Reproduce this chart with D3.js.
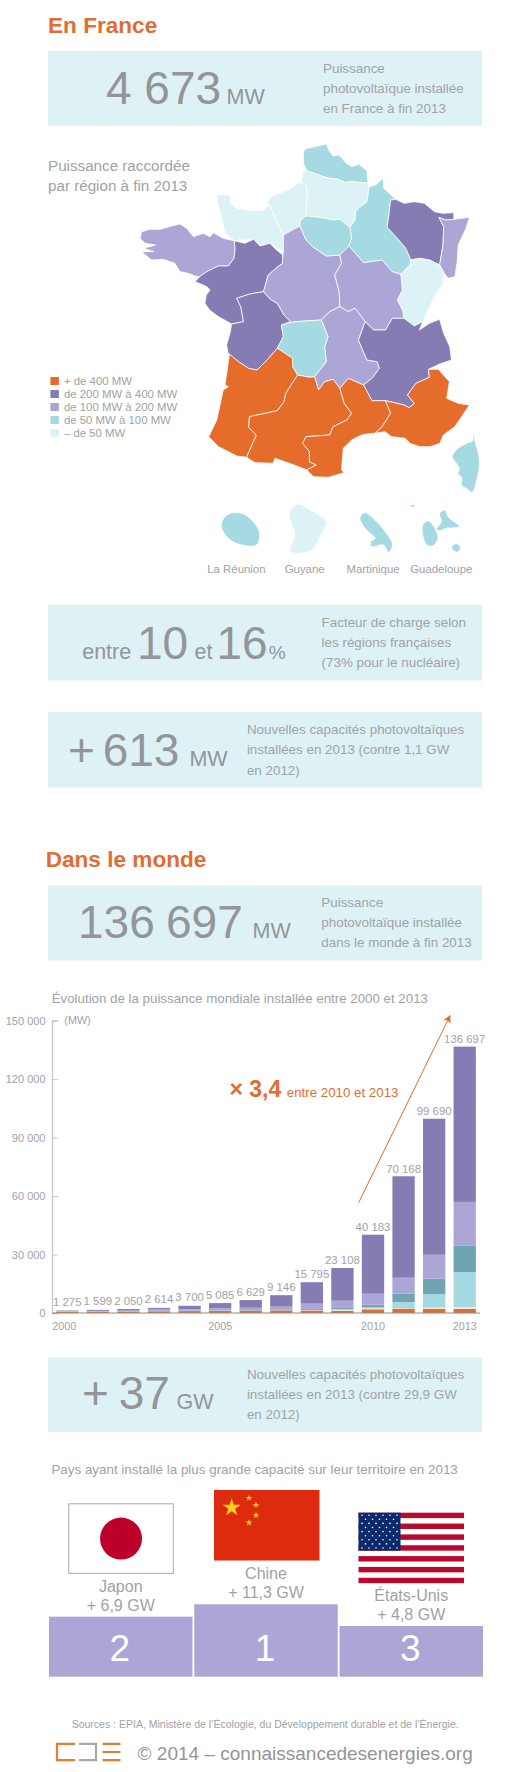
<!DOCTYPE html>
<html lang="fr">
<head>
<meta charset="utf-8">
<title>Photovoltaïque</title>
<script src="https://cdn.jsdelivr.net/npm/d3@7"></script>
<style>
html,body{margin:0;padding:0;background:#fff}
svg{display:block}
text{font-family:"Liberation Sans",Arial,sans-serif}
</style>
</head>
<body>
<svg id="page" width="530" height="1772" viewBox="0 0 530 1772"></svg>
<script>
// ---------- World chart data ----------
const years = [2000,2001,2002,2003,2004,2005,2006,2007,2008,2009,2010,2011,2012,2013];
const totals = [1275,1599,2050,2614,3700,5085,6629,9146,15795,23108,40183,70168,99690,136697];
const seriesOrange = [700,800,800,900,1000,1100,1200,1300,1300,1200,1900,2200,2200,2100];
const seriesPale = [100,100,100,100,100,100,100,100,200,500,400,200,600,900];
const seriesLightTeal = [0,0,0,0,0,0,0,0,100,200,600,3240,6800,18000];
const seriesDarkTeal = [0,0,100,100,100,100,200,200,500,1000,1400,4260,8000,13700];
const seriesLightPurple = [200,200,500,700,800,1100,1200,1700,2700,3400,5600,8200,12300,22300];
const seriesPurple = [275,499,550,814,1700,2685,3929,5846,10995,16808,30283,52068,69790,79697];
const yTicks = [0,30000,60000,90000,120000,150000];
const xTickYears = [2000,2005,2010,2013];

// ---------- Map legend ----------
const legendLabels = ["+ de 400 MW","de 200 MW à 400 MW","de 100 MW à 200 MW","de 50 MW à 100 MW","– de 50 MW"];
const overseasLabels = ["La Réunion","Guyane","Martinique","Guadeloupe"];

// ---------- Region classes (index into legend) and traced outlines (map units) ----------
const regionClasses = {nord:3,picardie:4,hauteNormandie:4,basseNormandie:4,bretagne:2,paysLoire:1,poitou:1,centre:2,idf:3,champagne:3,lorraine:1,alsace:2,francheComte:4,bourgogne:2,auvergne:2,limousin:3,rhoneAlpes:1,aquitaine:0,midiPyrenees:0,languedoc:0,paca:0,corse:3,reunion:3,guyane:4,martinique:3,guadeloupeO:3,guadeloupeE:3,guadeloupeS:3,guadeloupeN:3};
const islandKeys = ["corse","reunion","guyane","martinique","guadeloupeO","guadeloupeE","guadeloupeS"];
const regionOutlines = {
 nord:[[897,35],[904,26],[930,20],[965,12],[972,30],[985,48],[1002,45],[1012,55],[1022,68],[1040,80],[1062,73],[1085,92],[1088,130],[1060,127],[1040,124],[1022,128],[1000,118],[975,115],[955,110],[930,100],[908,93],[897,70]],
 picardie:[[897,92],[908,93],[930,100],[955,110],[975,115],[1000,118],[1022,128],[1040,124],[1060,127],[1088,130],[1092,140],[1085,185],[1060,205],[1052,215],[1050,240],[1035,262],[1005,238],[985,240],[945,232],[905,228],[905,190],[908,165],[905,135],[890,125]],
 hauteNormandie:[[890,125],[905,135],[908,165],[905,190],[905,228],[887,258],[860,275],[838,285],[815,240],[798,195],[790,188],[800,170],[850,150]],
 basseNormandie:[[640,165],[680,165],[682,190],[700,205],[745,212],[775,212],[798,195],[815,240],[838,285],[838,335],[820,325],[798,310],[769,318],[750,298],[693,302],[665,280],[657,240],[645,195]],
 bretagne:[[414,295],[419,275],[443,268],[473,268],[508,258],[532,252],[552,265],[572,290],[601,280],[621,290],[631,278],[660,295],[693,302],[695,330],[692,355],[675,378],[646,378],[611,395],[590,410],[577,408],[557,400],[532,395],[517,370],[483,358],[448,360],[419,335],[455,335],[425,325],[460,315],[429,310]],
 paysLoire:[[693,302],[724,310],[750,298],[769,318],[798,310],[818,330],[836,345],[835,372],[828,375],[793,405],[785,435],[779,455],[739,462],[700,475],[712,500],[720,545],[685,552],[646,530],[620,510],[606,490],[610,465],[621,450],[612,440],[577,425],[590,410],[611,395],[646,378],[675,378],[692,355],[695,330]],
 poitou:[[700,475],[739,462],[779,455],[800,478],[820,490],[840,525],[860,545],[832,555],[838,590],[820,625],[790,660],[760,690],[735,685],[705,665],[675,640],[670,615],[680,580],[685,552],[720,545],[712,500]],
 centre:[[887,258],[905,300],[925,320],[965,348],[1005,345],[1010,370],[990,405],[1003,455],[1005,500],[975,515],[950,540],[900,543],[860,547],[840,525],[820,490],[800,478],[779,455],[785,435],[793,405],[828,375],[835,372],[836,345],[838,335],[838,285]],
 idf:[[888,242],[905,228],[945,232],[985,240],[1005,238],[1035,262],[1040,295],[1032,318],[1005,345],[965,348],[925,320],[905,300],[887,258]],
 champagne:[[1092,140],[1110,135],[1133,115],[1135,145],[1170,178],[1155,180],[1150,225],[1145,262],[1175,295],[1200,325],[1215,360],[1212,375],[1185,403],[1160,395],[1130,360],[1075,368],[1032,318],[1040,295],[1035,262],[1050,240],[1052,215],[1060,205],[1085,185]],
 lorraine:[[1155,180],[1170,178],[1195,190],[1225,185],[1255,190],[1285,215],[1310,220],[1342,218],[1342,238],[1318,240],[1298,232],[1312,260],[1310,315],[1300,375],[1270,360],[1240,355],[1215,360],[1200,325],[1175,295],[1145,262],[1150,225]],
 alsace:[[1298,232],[1318,240],[1342,238],[1388,232],[1378,265],[1355,315],[1352,365],[1345,410],[1325,415],[1310,395],[1300,375],[1310,315],[1312,260]],
 francheComte:[[1212,375],[1215,360],[1240,355],[1270,360],[1300,375],[1312,395],[1310,430],[1285,470],[1250,545],[1225,558],[1195,535],[1190,510],[1175,480],[1190,450],[1185,403]],
 bourgogne:[[1005,345],[1032,318],[1075,368],[1130,360],[1160,395],[1185,403],[1190,450],[1175,480],[1190,510],[1195,535],[1160,535],[1140,570],[1105,570],[1080,545],[1050,505],[1030,515],[1005,500],[1003,455],[990,405],[1010,370]],
 auvergne:[[975,515],[1005,500],[1030,515],[1050,505],[1080,545],[1060,600],[1085,660],[1115,665],[1122,685],[1100,715],[1075,735],[1030,715],[1005,745],[985,718],[960,725],[942,750],[930,710],[965,665],[960,620],[970,590],[950,540]],
 limousin:[[860,547],[900,543],[950,540],[970,590],[960,620],[965,665],[930,710],[915,712],[880,705],[865,680],[865,655],[820,625],[838,590],[832,555]],
 rhoneAlpes:[[1080,545],[1105,570],[1140,570],[1160,535],[1195,535],[1225,558],[1250,545],[1240,570],[1270,550],[1300,538],[1312,580],[1330,620],[1335,660],[1300,672],[1267,688],[1270,712],[1230,730],[1205,765],[1225,790],[1210,803],[1195,795],[1140,782],[1100,782],[1075,735],[1100,715],[1122,685],[1115,665],[1085,660],[1060,600]],
 aquitaine:[[678,642],[705,665],[735,685],[760,690],[790,660],[820,625],[865,655],[865,680],[880,705],[845,760],[840,785],[820,812],[760,825],[738,830],[735,862],[758,885],[745,915],[729,952],[700,948],[646,920],[617,890],[641,840],[660,750],[675,740],[665,735],[672,690]],
 midiPyrenees:[[738,830],[760,825],[820,812],[840,785],[845,760],[880,705],[915,712],[930,710],[942,750],[960,725],[985,718],[1005,745],[1018,790],[1040,820],[1025,840],[985,860],[975,885],[905,890],[895,910],[915,935],[915,965],[935,975],[907,990],[870,975],[813,955],[808,970],[754,968],[729,952],[745,915],[758,885],[735,862]],
 languedoc:[[1005,745],[1030,715],[1075,735],[1100,782],[1140,782],[1155,820],[1130,860],[1109,880],[1099,880],[1069,885],[1040,900],[1015,925],[1010,990],[1018,998],[971,1012],[927,1010],[907,990],[935,975],[915,965],[915,935],[895,910],[905,890],[975,885],[985,860],[1025,840],[1040,820],[1018,790]],
 paca:[[1140,782],[1195,795],[1210,803],[1225,790],[1205,765],[1230,730],[1270,712],[1267,688],[1296,688],[1329,725],[1321,775],[1355,790],[1388,795],[1365,830],[1345,860],[1311,885],[1301,910],[1272,920],[1242,920],[1212,910],[1198,895],[1158,890],[1138,875],[1109,880],[1130,860],[1155,820]],
 corse:[[1399,873],[1405,905],[1412,930],[1418,965],[1411,1015],[1396,1058],[1386,1050],[1364,1035],[1366,1015],[1354,1000],[1358,985],[1337,950],[1345,935],[1354,925],[1384,908],[1397,903]],
 reunion:[[654,1155],[675,1122],[715,1120],[739,1135],[767,1175],[759,1215],[715,1215],[675,1195]],
 guyane:[[882,1092],[917,1110],[966,1145],[951,1180],[922,1230],[858,1235],[872,1180],[856,1135],[858,1110]],
 martinique:[[1065,1130],[1079,1118],[1109,1140],[1139,1175],[1161,1215],[1148,1237],[1134,1215],[1099,1220],[1096,1205],[1109,1195],[1084,1170],[1067,1145]],
 guadeloupeO:[[1250,1155],[1265,1142],[1280,1155],[1295,1195],[1280,1218],[1262,1215],[1250,1185]],
 guadeloupeE:[[1290,1168],[1305,1145],[1300,1120],[1315,1110],[1325,1130],[1358,1160],[1320,1165],[1300,1172]],
 guadeloupeS:[[1335,1222],[1350,1210],[1362,1225],[1350,1237]],
 guadeloupeN:[[1205,1100],[1225,1092],[1228,1102]]
};

// ---------- Podium ----------
const podiumCountries = ["Japon","Chine","États-Unis"];
const podiumGains = ["+ 6,9 GW","+ 11,3 GW","+ 4,8 GW"];
const podiumRanks = [2,1,3];

// ---------- Styles ----------
const ORANGE="#e26c33", GREY="#939598", TXT="#a0a2a5", BOX="#def2f6";
const legendColors=["#e66c2c","#857cb4","#aca6d6","#a6dae2","#ddf2f4"];
const svg=d3.select("#page");
const label=(x,y,t,size,fill,opts={})=>{
  const n=svg.append("text").attr("x",x).attr("y",y).attr("font-size",size).attr("fill",fill).text(t);
  if(opts.bold) n.attr("font-weight","bold");
  if(opts.anchor) n.attr("text-anchor",opts.anchor);
  if(opts.wordSpacing) n.attr("word-spacing",opts.wordSpacing);
  return n;
};
const para=(x,ys,lines)=>lines.forEach((l,i)=>label(x,ys[i],l,13.4,TXT));
const box=(y0,y1)=>svg.append("rect").attr("x",48).attr("y",y0).attr("width",434).attr("height",y1-y0).attr("fill",BOX);

// ---------- Section: France ----------
label(48,32.7,"En France",22.6,ORANGE,{bold:true});
box(51,126);
label(106,104,"4 673",46,GREY);
label(226.5,104,"MW",21.5,GREY);
para(323,[73.3,93.3,113.3],["Puissance","photovoltaïque installée","en France à fin 2013"]);

label(48,170.7,"Puissance raccordée",15.2,TXT);
label(48,190.7,"par région à fin 2013",15.2,TXT);

// Map
const mapX=d3.scaleLinear().domain([0,1590]).range([0,537.7]);
const mapY=d3.scaleLinear().domain([0,1380]).range([140,600]);
const outline=d3.line().x(d=>mapX(d[0])).y(d=>mapY(d[1])).curve(d3.curveLinearClosed);
const islandOutline=d3.line().x(d=>mapX(d[0])).y(d=>mapY(d[1])).curve(d3.curveCatmullRomClosed.alpha(0.5));
svg.append("g").selectAll("path").data(Object.keys(regionOutlines)).join("path")
  .attr("d",k=>(islandKeys.includes(k)?islandOutline:outline)(regionOutlines[k]))
  .attr("fill",k=>legendColors[regionClasses[k]])
  .attr("stroke","#fff").attr("stroke-width",0.8).attr("stroke-linejoin","round");

// Map legend
const legendY=d3.scalePoint().domain(legendLabels).range([381,433]);
const lg=svg.append("g").selectAll("g").data(legendLabels).join("g").attr("transform",d=>`translate(0,${legendY(d)})`);
lg.append("rect").attr("x",50.4).attr("y",-4).attr("width",8.5).attr("height",8).attr("fill",(d,i)=>legendColors[i]);
lg.append("text").attr("x",63.9).attr("y",4).attr("font-size",11.4).attr("fill",TXT).text(d=>d);

// Overseas labels
const overseasX=d3.scalePoint().domain(overseasLabels).range([236.4,441.3]);
svg.append("g").selectAll("text").data(overseasLabels).join("text")
  .attr("x",d=>overseasX(d)).attr("y",572.7).attr("text-anchor","middle").attr("font-size",11.4).attr("fill",TXT).text(d=>d);

// Box: load factor
box(605,680.7);
label(82.2,659,"entre",21.5,GREY);
label(137,659,"10",46,GREY);
label(194.5,659,"et",21.5,GREY);
label(216.5,659,"16",46,GREY);
label(268.8,659,"%",19,GREY);
para(321.6,[626.7,646.7,666.7],["Facteur de charge selon","les régions françaises","(73% pour le nucléaire)"]);

// Box: new capacity France
box(712,787.7);
label(68,765.7,"+ 613",46,GREY,{wordSpacing:-5});
label(189.4,765.7,"MW",21.5,GREY);
para(246.9,[734,754,775],["Nouvelles capacités photovoltaïques","installées en 2013 (contre 1,1 GW","en 2012)"]);

// ---------- Section: World ----------
label(45.7,867.3,"Dans le monde",22.6,ORANGE,{bold:true});
box(885.3,960.7);
label(78,937.7,"136 697",46,GREY,{wordSpacing:-1.5});
label(252.6,937.7,"MW",21.5,GREY);
para(321.3,[907,927,947],["Puissance","photovoltaïque installée","dans le monde à fin 2013"]);

// Stacked bars
label(51.7,1002.7,"Évolution de la puissance mondiale installée entre 2000 et 2013",13.3,TXT);
const fr=d3.formatLocale({decimal:",",thousands:"\u00a0",grouping:[3],currency:["","€"]}).format(",d");
const x=d3.scaleBand().domain(years).range([52,480]).paddingInner(0.27).paddingOuter(0.135);
const y=d3.scaleLinear().domain([0,150000]).range([1313,1020.7]);
const keys=["orange","pale","lightTeal","darkTeal","lightPurple","purple"];
const colours=d3.scaleOrdinal().domain(keys).range(["#e66c2c","#e8eeea","#a6dae2","#6fa4b3","#aca6d6","#857cb4"]);
const rows=years.map((yr,i)=>({year:yr,orange:seriesOrange[i],pale:seriesPale[i],lightTeal:seriesLightTeal[i],darkTeal:seriesDarkTeal[i],lightPurple:seriesLightPurple[i],purple:seriesPurple[i]}));
const stacks=d3.stack().keys(keys)(rows);
svg.append("g").selectAll("g").data(stacks).join("g").attr("fill",s=>colours(s.key))
  .selectAll("rect").data(s=>s).join("rect")
  .attr("x",d=>x(d.data.year)).attr("width",x.bandwidth())
  .attr("y",d=>y(d[1])).attr("height",d=>Math.max(0,y(d[0])-y(d[1])));
svg.append("g").selectAll("text").data(years).join("text")
  .attr("x",d=>x(d)+x.bandwidth()/2).attr("y",(d,i)=>y(totals[i])-(i<9?4.5:3.5))
  .attr("text-anchor","middle").attr("font-size",11.4).attr("fill",TXT)
  .text((d,i)=>fr(totals[i]));

const axisY=svg.append("g").attr("transform","translate(52,0)")
  .call(d3.axisLeft(y).tickValues(yTicks).tickFormat(fr).tickSize(-5.7).tickPadding(6.5));
axisY.select(".domain").attr("stroke","#c6c6c6").attr("stroke-width",1.3);
axisY.selectAll(".tick line").attr("stroke","#b5b5b5").attr("stroke-width",0.8);
axisY.selectAll("text").attr("fill",TXT).attr("font-size",11).attr("font-family",'"Liberation Sans",Arial,sans-serif');
label(64.3,1023.6,"(MW)",10.8,TXT);

svg.append("line").attr("x1",x.range()[0]).attr("x2",x.range()[1]).attr("y1",y(0)).attr("y2",y(0)).attr("stroke","#8c8c8c").attr("stroke-width",1);
const axisX=svg.append("g").attr("transform",`translate(0,${y(0)})`)
  .call(d3.axisBottom(x).tickValues(xTickYears).tickSize(0).tickPadding(9));
axisX.select(".domain").remove();
axisX.selectAll("text").attr("fill",TXT).attr("font-size",10.8).attr("font-family",'"Liberation Sans",Arial,sans-serif');
axisX.selectAll(".tick").filter(d=>d===2000).select("text").attr("dx",-3);

// Growth arrow (fractional year, MW)
const yearX=d3.scaleLinear().domain([2000,2013]).range([x(2000)+x.bandwidth()/2,x(2013)+x.bandwidth()/2]);
const arrowFrom=[2009.53,56600], arrowTo=[2012.52,152600];
const defs=svg.append("defs");
defs.append("marker").attr("id","arrowHead").attr("viewBox","0 0 10 10").attr("refX",9).attr("refY",5)
  .attr("markerWidth",8).attr("markerHeight",8).attr("markerUnits","userSpaceOnUse").attr("orient","auto")
  .append("path").attr("d","M0,0L10,5L0,10L2.5,5Z").attr("fill",ORANGE);
svg.append("line").attr("x1",yearX(arrowFrom[0])).attr("y1",y(arrowFrom[1])).attr("x2",yearX(arrowTo[0])).attr("y2",y(arrowTo[1]))
  .attr("stroke",ORANGE).attr("stroke-width",1).attr("marker-end","url(#arrowHead)");
label(229.5,1096.7,"× 3,4",23,ORANGE,{bold:true});
label(286.8,1096.7,"entre 2010 et 2013",13.3,ORANGE);

// Box: new capacity world
box(1357.3,1432);
label(82,1409.3,"+ 37",46,GREY,{wordSpacing:-3});
label(176.5,1409.3,"GW",21.5,GREY);
para(246.9,[1379,1399,1419],["Nouvelles capacités photovoltaïques","installées en 2013 (contre 29,9 GW","en 2012)"]);

// Podium
label(51.4,1474,"Pays ayant installé la plus grande capacité sur leur territoire en 2013",13.4,TXT);

const podiumX=d3.scaleBand().domain([0,1,2]).range([49,483]).paddingInner(0.012);
const podiumTop=d3.scaleLinear().domain([1,2,3]).range([1604.3,1616.7,1626]);
const flagW=105.5,flagH=70.5;
const g=svg.append("g").selectAll("g").data(podiumRanks).join("g");
g.append("rect").attr("x",(d,i)=>podiumX(i)).attr("width",podiumX.bandwidth()).attr("y",d=>podiumTop(d)).attr("height",d=>1676.7-podiumTop(d)).attr("fill","#aca6d6");
g.append("text").attr("x",(d,i)=>podiumX(i)+podiumX.bandwidth()/2-(i===1?1:1)).attr("y",1660.7).attr("text-anchor","middle").attr("font-size",37).attr("fill","#fff").text(d=>d);
g.append("text").attr("x",(d,i)=>podiumX(i)+podiumX.bandwidth()/2).attr("y",d=>podiumTop(d)-25).attr("text-anchor","middle").attr("font-size",16).attr("fill",TXT).text((d,i)=>podiumCountries[i]);
g.append("text").attr("x",(d,i)=>podiumX(i)+podiumX.bandwidth()/2).attr("y",d=>podiumTop(d)-6).attr("text-anchor","middle").attr("font-size",16).attr("fill",TXT).text((d,i)=>podiumGains[i]);

// Japan flag
const jp=svg.append("g").attr("transform","translate(68.3,1503.3)");
jp.append("rect").attr("x",0.5).attr("y",0.5).attr("width",flagW-1).attr("height",flagH-1).attr("fill","#fff").attr("stroke","#a8a8a8");
jp.append("circle").attr("cx",flagW/2).attr("cy",flagH/2).attr("r",21).attr("fill","#bd0029");

// China flag
const cn=svg.append("g").attr("transform","translate(214,1490)");
cn.append("rect").attr("width",flagW).attr("height",flagH).attr("fill","#de2a0e");
const star=s=>d3.symbol(d3.symbolStar,s)();
[[17.7,17.7,100],[35,8,14],[42,15,14],[42,25.4,14],[35,32.7,14]].forEach(p=>
  cn.append("path").attr("d",star(p[2])).attr("transform",`translate(${p[0]},${p[1]})`).attr("fill","#fcd116"));

// US flag
const us=svg.append("g").attr("transform","translate(358.5,1512.7)");
us.append("rect").attr("width",flagW).attr("height",flagH).attr("fill","#fff");
const stripe=d3.scaleBand().domain(d3.range(13)).range([0,flagH]);
us.selectAll(".s").data(d3.range(0,13,2)).join("rect").attr("class","s").attr("y",d=>stripe(d)).attr("width",flagW).attr("height",stripe.bandwidth()).attr("fill","#b80a2e");
us.append("rect").attr("width",42).attr("height",38).attr("fill","#0a2a6b");
const usStars=[];
for(let r=0;r<9;r++){const n=r%2?5:6;for(let c=0;c<n;c++)usStars.push([(r%2?7:3.5)+c*7,2.5+r*4.1]);}
us.selectAll("circle").data(usStars).join("circle").attr("cx",d=>d[0]).attr("cy",d=>d[1]).attr("r",0.8).attr("fill","#fff");

// Footer
label(71.7,1727.7,"Sources : EPIA, Ministère de l’Écologie, du Développement durable et de l’Énergie.",10.5,TXT);
const logo=svg.append("g").attr("fill","none").attr("stroke-width",2.2);
logo.append("path").attr("d","M75,1743.8H57V1760.2H75").attr("stroke","#e67c34");
logo.append("path").attr("d","M79,1743.8H96V1760.2H79").attr("stroke","#a9a9a9");
logo.append("path").attr("d","M102.5,1743.8H120.5M102.5,1752H120.5M102.5,1760.2H120.5").attr("stroke","#e67c34");
label(137.6,1760,"© 2014 – connaissancedesenergies.org",19,GREY);
</script>
</body>
</html>
